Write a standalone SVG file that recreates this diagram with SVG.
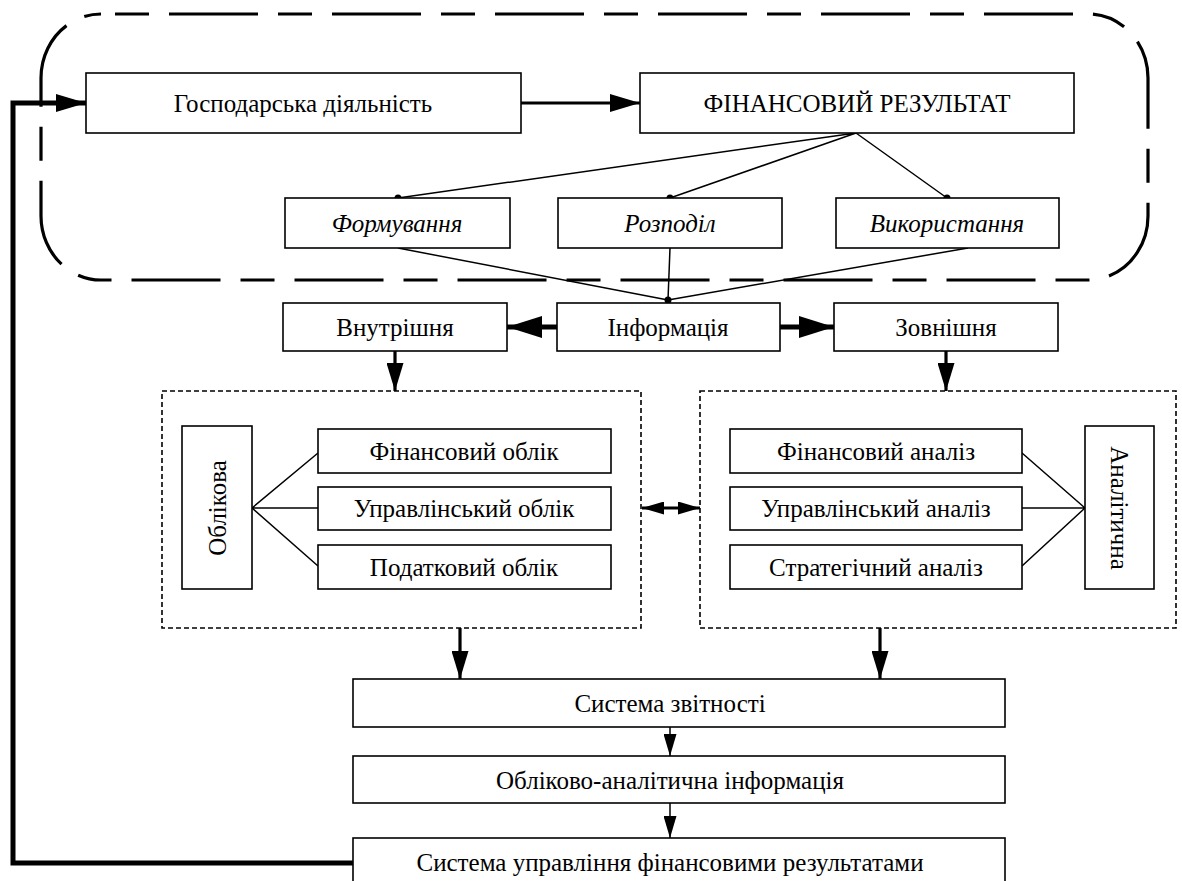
<svg xmlns="http://www.w3.org/2000/svg" width="1182" height="881" viewBox="0 0 1182 881">
<defs>
<marker id="ahBig" viewBox="0 0 10 10" refX="10" refY="5" markerWidth="30" markerHeight="18" markerUnits="userSpaceOnUse" orient="auto-start-reverse" preserveAspectRatio="none"><path d="M0,0 L10,5 L0,10 z" fill="#000"/></marker>
<marker id="ahInf" viewBox="0 0 10 10" refX="10" refY="5" markerWidth="35" markerHeight="22" markerUnits="userSpaceOnUse" orient="auto-start-reverse" preserveAspectRatio="none"><path d="M0,0 L10,5 L0,10 z" fill="#000"/></marker>
<marker id="ahMid" viewBox="0 0 10 10" refX="10" refY="5" markerWidth="28" markerHeight="17" markerUnits="userSpaceOnUse" orient="auto-start-reverse" preserveAspectRatio="none"><path d="M0,0 L10,5 L0,10 z" fill="#000"/></marker>
<marker id="ahSm" viewBox="0 0 10 10" refX="10" refY="5" markerWidth="22" markerHeight="13" markerUnits="userSpaceOnUse" orient="auto-start-reverse" preserveAspectRatio="none"><path d="M0,0 L10,5 L0,10 z" fill="#000"/></marker>
</defs>
<style>
.box{fill:#fff;stroke:#000;stroke-width:1.6}
.dbox{fill:none;stroke:#000;stroke-width:1.6;stroke-dasharray:5 3}
.outer{fill:none;stroke:#000;stroke-width:3.2;stroke-dasharray:34 20 89 20;stroke-dashoffset:149}
.t{font-family:"Liberation Serif","Times New Roman",serif;font-size:25px;fill:#000;text-anchor:middle;dominant-baseline:central}
.i{font-style:italic}
.ln{fill:none;stroke:#000;stroke-width:1.5}
.thick{fill:none;stroke:#000;stroke-width:3.2}
.thick5{fill:none;stroke:#000;stroke-width:5}
</style>
<rect width="1182" height="881" fill="#fff"/>
<rect class="outer" x="41" y="14" width="1107" height="266" rx="60" ry="64"/>

<g id="connectors">
<path class="thick" d="M521,103 L640,103" marker-end="url(#ahBig)"/>
<path class="ln" d="M856,133 L398,198 M856,133 L670,198 M856,133 L947,198"/>
<path class="ln" d="M398,248 L668,300 M670,248 L668,300 M968,248 L668,300"/>
<path class="thick5" d="M557,327 L507,327" marker-end="url(#ahInf)"/>
<path class="thick5" d="M780,327 L834,327" marker-end="url(#ahInf)"/>
<path class="thick" d="M395,351 L395,391" marker-end="url(#ahMid)"/>
<path class="thick" d="M946,351 L946,391" marker-end="url(#ahMid)"/>
<path class="ln" d="M252,508 L318,453 M252,508 L318,508 M252,508 L318,566"/>
<path class="ln" d="M1085,508 L1022,453 M1085,508 L1022,508 M1085,508 L1022,566"/>
<path class="thick" d="M642,508 L700,508" marker-start="url(#ahSm)" marker-end="url(#ahSm)"/>
<path class="thick" d="M460,628 L460,679" marker-end="url(#ahMid)"/>
<path class="thick" d="M880,628 L880,679" marker-end="url(#ahMid)"/>
<path class="ln" d="M670,727 L670,756" marker-end="url(#ahSm)"/>
<path class="ln" d="M670,803 L670,838" marker-end="url(#ahSm)"/>
<path class="thick5" d="M353,863 L13,863 L13,103 L86,103" stroke-width="4" marker-end="url(#ahBig)"/>
<circle cx="398" cy="198" r="3.5"/>
<circle cx="670" cy="198" r="3.5"/>
<circle cx="947" cy="198" r="3.5"/>
<circle cx="668" cy="300" r="3.5"/>
</g>

<g id="n-gosp"><rect class="box" x="86" y="73" width="435" height="60"/><text class="t" x="303" y="103">Господарська діяльність</text></g>
<g id="n-finres"><rect class="box" x="640" y="73" width="434" height="60"/><text class="t" x="857" y="103">ФІНАНСОВИЙ РЕЗУЛЬТАТ</text></g>
<g id="n-form"><rect class="box" x="285" y="198" width="225" height="50"/><text class="t i" x="397" y="223">Формування</text></g>
<g id="n-rozp"><rect class="box" x="558" y="198" width="224" height="50"/><text class="t i" x="670" y="223">Розподіл</text></g>
<g id="n-vyk"><rect class="box" x="836" y="198" width="223" height="50"/><text class="t i" x="947" y="223">Використання</text></g>
<g id="n-vnutr"><rect class="box" x="283" y="303" width="224" height="48"/><text class="t" x="395" y="327">Внутрішня</text></g>
<g id="n-inf"><rect class="box" x="557" y="303" width="223" height="48"/><text class="t" x="668" y="327">Інформація</text></g>
<g id="n-zovn"><rect class="box" x="834" y="303" width="224" height="48"/><text class="t" x="946" y="327">Зовнішня</text></g>

<g id="g-oblik">
<rect class="dbox" x="162" y="391" width="479" height="237"/>
<g id="n-oblikova"><rect class="box" x="182" y="426" width="70" height="163"/><text class="t" transform="translate(217,508) rotate(-90)">Облікова</text></g>
<g id="n-fo"><rect class="box" x="318" y="429" width="293" height="44"/><text class="t" x="464" y="451">Фінансовий облік</text></g>
<g id="n-uo"><rect class="box" x="318" y="487" width="293" height="43"/><text class="t" x="464" y="508">Управлінський облік</text></g>
<g id="n-po"><rect class="box" x="318" y="545" width="293" height="44"/><text class="t" x="464" y="567">Податковий облік</text></g>
</g>

<g id="g-analiz">
<rect class="dbox" x="700" y="391" width="476" height="237"/>
<g id="n-fa"><rect class="box" x="730" y="429" width="292" height="44"/><text class="t" x="876" y="451">Фінансовий аналіз</text></g>
<g id="n-ua"><rect class="box" x="730" y="487" width="292" height="43"/><text class="t" x="876" y="508">Управлінський аналіз</text></g>
<g id="n-sa"><rect class="box" x="730" y="545" width="292" height="44"/><text class="t" x="876" y="567">Стратегічний аналіз</text></g>
<g id="n-analit"><rect class="box" x="1085" y="426" width="69" height="163"/><text class="t" transform="translate(1119,508) rotate(90)">Аналітична</text></g>
</g>

<g id="n-zvit"><rect class="box" x="353" y="679" width="652" height="48"/><text class="t" x="670" y="703">Система звітності</text></g>
<g id="n-oai"><rect class="box" x="353" y="756" width="652" height="47"/><text class="t" x="670" y="780">Обліково-аналітична інформація</text></g>
<g id="n-sufr"><rect class="box" x="353" y="838" width="652" height="50"/><text class="t" x="670" y="862">Система управління фінансовими результатами</text></g>
</svg>
